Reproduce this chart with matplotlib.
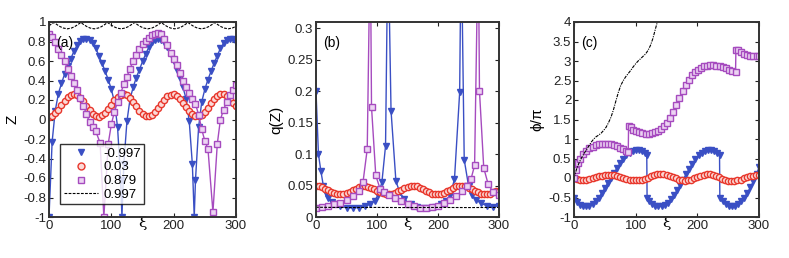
import matplotlib
matplotlib.use("Agg")
import matplotlib.pyplot as plt
from matplotlib.lines import Line2D

plt.rcParams["font.family"] = ["Liberation Sans", "DejaVu Sans"]
plt.rcParams["font.size"] = 9.5

# ---- panel (a): Z(xi) ----
blue_a_xi = [0, 5, 10, 15, 20, 25, 30, 35, 40, 45, 50, 55, 60, 65, 70, 75, 80, 85, 90, 95,
             100, 105, 110, 115, 117, 120, 125, 130, 135, 140, 145, 150, 155, 160, 165, 170,
             175, 180, 185, 190, 195, 200, 205, 210, 215, 220, 225, 230, 233, 235, 240, 245,
             250, 255, 260, 265, 270, 275, 280, 285, 290, 295, 300]
blue_a = [-1.0, -0.23, 0.09, 0.265, 0.37, 0.465, 0.55, 0.625, 0.70, 0.76, 0.805, 0.824,
          0.827, 0.815, 0.78, 0.73, 0.655, 0.58, 0.495, 0.41, 0.31, 0.18, -0.08, -0.62, -1.0,
          -0.46, -0.02, 0.21, 0.33, 0.43, 0.51, 0.595, 0.67, 0.74, 0.79, 0.818, 0.828, 0.818,
          0.79, 0.74, 0.67, 0.595, 0.51, 0.43, 0.33, 0.21, -0.02, -0.46, -1.0, -0.62, -0.08,
          0.18, 0.31, 0.41, 0.495, 0.58, 0.655, 0.73, 0.78, 0.815, 0.827, 0.823, 0.80]

red_a_xi = list(range(0, 301, 5))
red_a = [0.03, 0.039, 0.064, 0.102, 0.147, 0.191, 0.228, 0.252, 0.26, 0.25, 0.223, 0.185,
         0.14, 0.096, 0.06, 0.037, 0.03, 0.042, 0.069, 0.108, 0.153, 0.197, 0.232, 0.254,
         0.26, 0.247, 0.219, 0.179, 0.134, 0.09, 0.056, 0.035, 0.031, 0.044, 0.074, 0.114,
         0.159, 0.202, 0.236, 0.256, 0.259, 0.244, 0.214, 0.173, 0.127, 0.085, 0.052, 0.033,
         0.032, 0.048, 0.079, 0.12, 0.166, 0.208, 0.24, 0.258, 0.258, 0.24, 0.208, 0.166, 0.14]

mag_a_xi = [0, 5, 10, 15, 20, 25, 30, 35, 40, 45, 50, 55, 60, 65, 70, 75, 82, 88, 95, 100,
            105, 110, 115, 120, 125, 130, 135, 140, 145, 150, 155, 160, 165, 170, 175, 180,
            185, 190, 195, 200, 205, 210, 215, 220, 225, 230, 235, 240, 245, 250, 255, 263,
            270, 275, 280, 285, 290, 295, 300]
mag_a = [0.88, 0.85, 0.79, 0.72, 0.66, 0.60, 0.52, 0.45, 0.37, 0.30, 0.22, 0.14, 0.06,
         -0.03, -0.08, -0.12, -0.24, -1.0, -0.25, -0.05, 0.08, 0.18, 0.27, 0.36, 0.44, 0.52,
         0.60, 0.66, 0.72, 0.77, 0.81, 0.84, 0.865, 0.88, 0.885, 0.88, 0.83, 0.76, 0.68,
         0.62, 0.56, 0.48, 0.40, 0.33, 0.27, 0.21, 0.16, 0.05, -0.10, -0.22, -0.30, -0.95,
         -0.25, 0.0, 0.10, 0.18, 0.25, 0.30, 0.35]

blk_a_xi = [0, 3, 8, 13, 18, 23, 29.5, 36, 41, 46, 51, 56, 61, 66, 72.5, 79, 84, 89, 94,
            99, 104, 109, 115.5, 122, 127, 132, 137, 142, 147, 152, 158.5, 165, 170, 175,
            180, 185, 190, 195, 201.5, 208, 213, 218, 223, 228, 233, 238, 244.5, 251, 256,
            261, 266, 271, 276, 281, 287.5, 294, 299, 300]
blk_a = [0.962, 0.975, 0.995, 0.972, 0.952, 0.938, 0.93, 0.938, 0.952, 0.972, 0.995,
         0.972, 0.952, 0.938, 0.93, 0.938, 0.952, 0.972, 0.995, 0.972, 0.952, 0.938, 0.93,
         0.938, 0.952, 0.972, 0.995, 0.972, 0.952, 0.938, 0.93, 0.938, 0.952, 0.972, 0.995,
         0.972, 0.952, 0.938, 0.93, 0.938, 0.952, 0.972, 0.995, 0.972, 0.952, 0.938, 0.93,
         0.938, 0.952, 0.972, 0.995, 0.972, 0.952, 0.938, 0.93, 0.938, 0.952, 0.955]

# ---- panel (b): q(Z) ----
blue_b_xi = [0, 4, 8, 12, 16, 20, 26, 32, 40, 50, 60, 70, 80, 88, 96, 102, 108, 114, 118,
             123, 131, 137, 145, 155, 165, 175, 185, 195, 205, 213, 220, 227, 235.5, 238,
             243, 250, 256, 263, 270, 280, 290, 300]
blue_b = [0.2, 0.1, 0.073, 0.05, 0.038, 0.03, 0.024, 0.02, 0.017, 0.015, 0.0145, 0.015,
          0.017, 0.02, 0.026, 0.035, 0.055, 0.113, 0.45, 0.169, 0.057, 0.04, 0.028, 0.02,
          0.016, 0.015, 0.0145, 0.016, 0.02, 0.025, 0.035, 0.06, 0.198, 0.45, 0.091, 0.05,
          0.035, 0.027, 0.022, 0.018, 0.016, 0.018]

red_b_xi = list(range(0, 301, 5))
red_b = [0.049, 0.0485, 0.047, 0.045, 0.0424, 0.04, 0.0378, 0.0364, 0.036, 0.0366, 0.038,
         0.0402, 0.0428, 0.0453, 0.0473, 0.0486, 0.049, 0.0484, 0.0468, 0.0446, 0.042,
         0.0396, 0.0376, 0.0363, 0.036, 0.0367, 0.0383, 0.0406, 0.0431, 0.0456, 0.0476,
         0.049, 0.0495, 0.0487, 0.0468, 0.0442, 0.0417, 0.0393, 0.0373, 0.0362, 0.0361,
         0.0369, 0.0386, 0.041, 0.0435, 0.0462, 0.0485, 0.0498, 0.05, 0.049, 0.0468,
         0.0439, 0.0413, 0.039, 0.0371, 0.0361, 0.0361, 0.0371, 0.039, 0.0413, 0.0415]

mag_b_xi = [0, 10, 20, 30, 40, 50, 60, 70, 77, 84, 89, 91, 98, 105, 112, 120, 130, 140,
            150, 160, 170, 180, 190, 200, 210, 220, 230, 240, 247, 254, 260, 266, 268, 275,
            282, 290, 300]
mag_b = [0.015, 0.016, 0.018, 0.02, 0.023, 0.027, 0.033, 0.042, 0.055, 0.108, 0.45, 0.175,
         0.066, 0.045, 0.04, 0.035, 0.03, 0.025, 0.02, 0.017, 0.015, 0.015, 0.016, 0.018,
         0.022, 0.027, 0.033, 0.042, 0.05, 0.06, 0.082, 0.45, 0.2, 0.078, 0.053, 0.04, 0.035]

blk_b_xi = [0, 50, 100, 150, 200, 250, 300]
blk_b = [0.0155, 0.015, 0.0152, 0.015, 0.0152, 0.015, 0.0152]

# ---- panel (c): phi/pi ----
blue_c_xi = [0, 5, 10, 15, 20, 25, 30, 35, 40, 45, 50, 55, 60, 65, 70, 75, 80, 85, 90, 95,
             100, 105, 110, 115, 118, 118.5, 122, 127, 132, 137, 142, 147, 152, 157, 162,
             167, 172, 177, 182, 187, 192, 197, 202, 207, 212, 217, 222, 227, 232, 236,
             236.5, 241, 246, 251, 256, 261, 266, 271, 276, 281, 286, 291, 296, 300]
blue_c = [-0.52, -0.62, -0.68, -0.72, -0.73, -0.72, -0.67, -0.6, -0.5, -0.39, -0.26, -0.12,
          0.0, 0.13, 0.26, 0.38, 0.49, 0.58, 0.65, 0.7, 0.72, 0.72, 0.69, 0.64, 0.6, -0.5,
          -0.58, -0.66, -0.71, -0.73, -0.73, -0.7, -0.64, -0.55, -0.44, -0.32, -0.18, -0.04,
          0.1, 0.24, 0.37, 0.48, 0.58, 0.65, 0.7, 0.72, 0.72, 0.69, 0.64, 0.6, -0.5, -0.6,
          -0.67, -0.72, -0.73, -0.72, -0.67, -0.6, -0.5, -0.38, -0.24, -0.08, 0.1, 0.27]

red_c_xi = list(range(0, 301, 5))
red_c = [0.0, -0.03, -0.05, -0.05, -0.04, -0.02, 0.0, 0.02, 0.04, 0.06, 0.07, 0.08, 0.08,
         0.07, 0.05, 0.03, 0.01, -0.02, -0.04, -0.05, -0.06, -0.05, -0.04, -0.02, 0.01, 0.04,
         0.07, 0.09, 0.1, 0.09, 0.08, 0.05, 0.02, -0.01, -0.04, -0.06, -0.07, -0.06, -0.04,
         -0.01, 0.02, 0.05, 0.08, 0.09, 0.09, 0.08, 0.05, 0.02, -0.02, -0.05, -0.07, -0.08,
         -0.08, -0.06, -0.04, -0.01, 0.02, 0.04, 0.06, 0.07, 0.07]

mag_c_xi = [0, 3, 6, 10, 15, 20, 25, 30, 35, 40, 45, 50, 55, 60, 65, 70, 75, 80, 85, 88,
            88.5, 92, 96, 101, 106, 111, 116, 121, 126, 131, 136, 141, 146, 151, 156, 161,
            166, 171, 176, 181, 186, 191, 196, 201, 206, 211, 216, 221, 226, 231, 236, 241,
            246, 251, 256, 262, 262.5, 266, 271, 276, 281, 286, 291, 296, 300]
mag_c = [0.0, 0.2, 0.38, 0.5, 0.62, 0.7, 0.76, 0.8, 0.84, 0.86, 0.87, 0.88, 0.88, 0.87,
         0.85, 0.82, 0.78, 0.74, 0.69, 0.67, 1.33, 1.3, 1.24, 1.2, 1.17, 1.15, 1.14, 1.14,
         1.15, 1.17, 1.21, 1.26, 1.33, 1.42, 1.55, 1.7, 1.87, 2.05, 2.22, 2.38, 2.52, 2.63,
         2.72, 2.78, 2.83, 2.86, 2.88, 2.89, 2.89, 2.88, 2.86, 2.84, 2.81, 2.78, 2.75, 2.71,
         3.27, 3.27, 3.22, 3.18, 3.16, 3.14, 3.13, 3.12, 3.12]

blk_c_xi = [0, 4, 8, 12, 16, 20, 24, 28, 32, 36, 40, 44, 48, 52, 56, 60, 64, 68, 72, 76,
            80, 84, 88, 92, 96, 100, 104, 108, 112, 116, 120, 124, 128, 132, 136, 140]
blk_c = [0.0, 0.22, 0.38, 0.51, 0.62, 0.72, 0.82, 0.92, 1.0, 1.06, 1.1, 1.15, 1.22, 1.3,
         1.42, 1.56, 1.75, 1.98, 2.2, 2.38, 2.5, 2.6, 2.68, 2.76, 2.85, 2.93, 3.0, 3.06,
         3.12, 3.18, 3.27, 3.4, 3.58, 3.82, 4.05, 4.3]

labels = ["-0.997", "0.03", "0.879", "0.997"]
C_BLUE = "#3a4fc4"
C_RED = "#e8372c"
C_MAG = "#a64bbf"
STYLE = [dict(marker="v", mfc=C_BLUE, mec=C_BLUE, color=C_BLUE),
         dict(marker="o", mfc="#fbd9d6", mec=C_RED, color=C_RED),
         dict(marker="s", mfc="#ecd4f2", mec=C_MAG, color=C_MAG)]

fig = plt.figure(figsize=(7.89, 2.58), dpi=100)
W, H = 789, 258
boxes = [(49, 236), (316, 499), (574, 759)]
axes = [fig.add_axes([l / W, 1 - 217 / H, (r - l) / W, 195 / H]) for l, r in boxes]


def draw(ax, series, k, kstyle):
    for (x, y), st in zip(series, STYLE):
        ax.plot(x, y, lw=1.0, ms=4.5, **st)
    ax.plot(*k, color="black", lw=0.8, dashes=kstyle)


draw(axes[0], [(blue_a_xi, blue_a), (red_a_xi, red_a), (mag_a_xi, mag_a)],
     (blk_a_xi, blk_a), (2.5, 1.2))
draw(axes[1], [(blue_b_xi, blue_b), (red_b_xi, red_b), (mag_b_xi, mag_b)],
     (blk_b_xi, blk_b), (2.5, 1.2))
draw(axes[2], [(blue_c_xi, blue_c), (red_c_xi, red_c), (mag_c_xi, mag_c)],
     (blk_c_xi, blk_c), (3, 1, 1, 1))

ylims = [(-1, 1), (0, 0.31), (-1, 4)]
yticks = [[-1, -0.8, -0.6, -0.4, -0.2, 0, 0.2, 0.4, 0.6, 0.8, 1],
          [0, 0.05, 0.1, 0.15, 0.2, 0.25, 0.3],
          [-1, -0.5, 0, 0.5, 1, 1.5, 2, 2.5, 3, 3.5, 4]]
ylabels = ["Z", "q(Z)", "ϕ/π"]
tags = ["(a)", "(b)", "(c)"]

for ax, yl, yt, ylab, tag in zip(axes, ylims, yticks, ylabels, tags):
    ax.set_xlim(0, 300)
    ax.set_ylim(*yl)
    ax.set_xticks([0, 100, 200, 300])
    ax.set_yticks(yt)
    ax.set_yticklabels(["%g" % v for v in yt])
    ax.tick_params(direction="in", top=True, right=True, length=3, width=0.8,
                   labelsize=9.5, pad=2, colors="#222222")
    for s in ax.spines.values():
        s.set_linewidth(1.4)
        s.set_color("#333333")
    ax.set_xlabel("ξ", fontsize=11, labelpad=-11, family="DejaVu Serif")
    ax.set_ylabel(ylab, fontsize=11, labelpad=3)
    ax.text(0.04, 0.93, tag, transform=ax.transAxes, fontsize=10, va="top", ha="left")

# legend: markers only for the coloured series, dashed line for the black one
handles = [Line2D([], [], ls="none", ms=5, **st) for st in STYLE]
handles.append(Line2D([], [], color="black", lw=0.8, dashes=(2.5, 1.2)))
leg = axes[0].legend(handles, labels, loc="lower left", bbox_to_anchor=(0.06, 0.065),
                     fontsize=9.5, frameon=True, fancybox=False, borderpad=0.25,
                     labelspacing=0.12, handlelength=2.6, handletextpad=0.4,
                     borderaxespad=0)
leg.get_frame().set_edgecolor("black")
leg.get_frame().set_linewidth(1.0)

fig.savefig("out.png", dpi=100)
